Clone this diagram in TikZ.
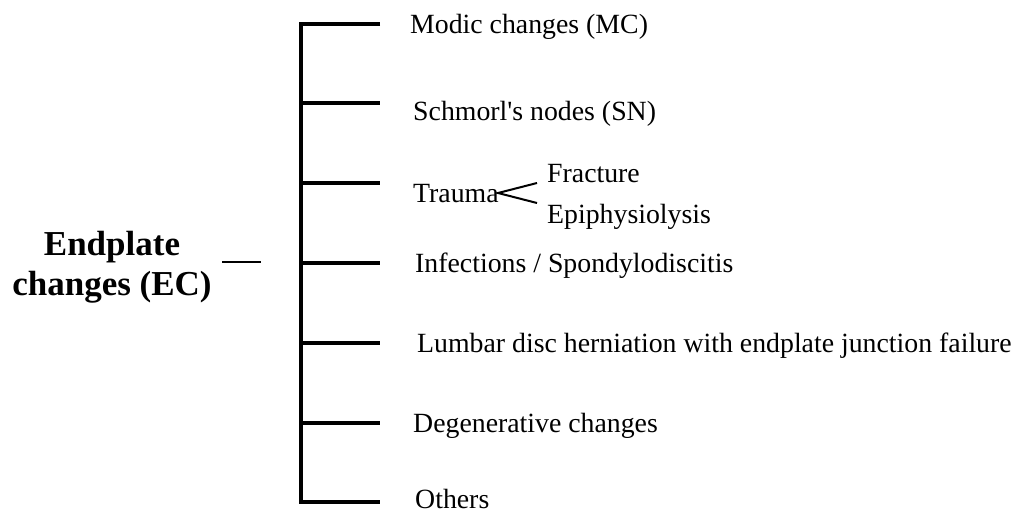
\documentclass[tikz,border=0pt]{standalone}
\usepackage{fontspec}
\setmainfont{Liberation Serif}[Ligatures=TeXOff]
\begin{document}
\begin{tikzpicture}[x=1pt,y=-1pt,
  item/.style={anchor=base west,inner sep=0pt,font=\fontsize{27.8}{33}\selectfont},
  title/.style={anchor=base,inner sep=0pt,align=center,font=\fontsize{35}{40}\selectfont\bfseries},
  bracket/.style={line width=3.5pt,line join=miter},
  branch/.style={line width=3.5pt},
  thin/.style={line width=2pt}]
\useasboundingbox (0,0) rectangle (1011,512);
% title
\node[title] (t1) at (112,255) {Endplate};
\node[title] (t2) at (112,295) {changes (EC)};
\coordinate (d1) at (222,262);
\coordinate (d2) at (261,262);
\draw[thin] (d1) -- (d2);
% items
\node[item] (mc) at (410,33) {Modic changes (MC)};
\node[item] (sn) at (413,120) {Schmorl's nodes (SN)};
\node[item] (tr) at (413,202) {Trauma};
\node[item] (fr) at (547,182) {Fracture};
\node[item] (ep) at (547,223) {Epiphysiolysis};
\node[item] (inf) at (415,272) {Infections / Spondylodiscitis};
\node[item] (ld) at (417,352) {Lumbar disc herniation with endplate junction failure};
\node[item] (dg) at (413,432) {Degenerative changes};
\node[item] (ot) at (415,508) {Others};
% bracket coordinates
\coordinate (b1) at (301,24);  \coordinate (e1) at (380,24);
\coordinate (b2) at (301,103); \coordinate (e2) at (380,103);
\coordinate (b3) at (301,183); \coordinate (e3) at (380,183);
\coordinate (b4) at (301,263); \coordinate (e4) at (380,263);
\coordinate (b5) at (301,343); \coordinate (e5) at (380,343);
\coordinate (b6) at (301,423); \coordinate (e6) at (380,423);
\coordinate (b7) at (301,502); \coordinate (e7) at (380,502);
\draw[bracket] (e1) -- (b1) -- (b7) -- (e7);
\foreach \i in {2,...,6} \draw[branch] (b\i) -- (e\i);
% trauma split
\coordinate (ta) at (498,193);
\coordinate (tu) at (537,183);
\coordinate (tl) at (537,203);
\draw[thin] (tu) -- (ta) -- (tl);
\end{tikzpicture}
\end{document}
